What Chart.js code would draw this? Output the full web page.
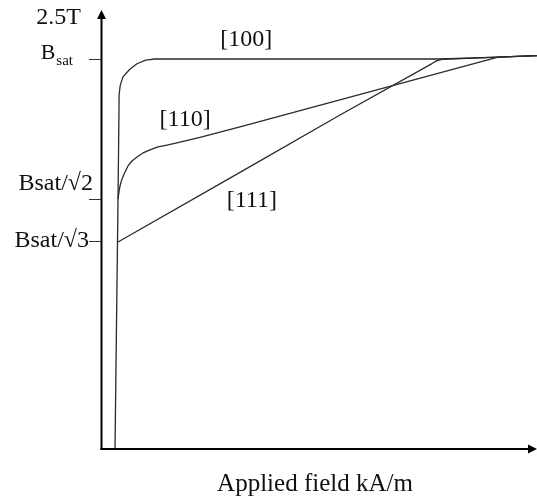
<!DOCTYPE html>
<html>
<head>
<meta charset="utf-8">
<script src="https://cdn.jsdelivr.net/npm/chart.js@4/dist/chart.umd.min.js"></script>
<style>
html,body{margin:0;padding:0;background:#fff;}
canvas{display:block;}
</style>
</head>
<body>
<canvas id="c" width="537" height="500"></canvas>
<script>
// ---- data (applied field in arbitrary kA/m units, induction in T) ----
const categories = ['[100]', '[110]', '[111]'];
const field100 = [3.211, 3.899, 4.128, 4.15, 4.404, 5.000, 6.537, 8.257, 10.252, 12.385, 77.752, 91.055, 100];
const b100     = [0.000, 1.418, 1.931, 2.016, 2.069, 2.118, 2.161, 2.194, 2.214, 2.221, 2.221, 2.232, 2.240];
const field110 = [3.899, 4.128, 4.358, 4.817, 5.505, 6.193, 7.110, 8.257, 9.633, 11.239, 13.073, 15.138, 18.119, 22.706, 31.881, 91.055, 100];
const b110     = [1.424, 1.464, 1.498, 1.538, 1.577, 1.612, 1.640, 1.663, 1.686, 1.703, 1.720, 1.731, 1.748, 1.774, 1.834, 2.232, 2.240];
const field111 = [3.899, 31.881, 54.817, 75.917, 77.064, 78.211, 91.055, 100];
const b111     = [1.179, 1.575, 1.902, 2.195, 2.212, 2.219, 2.232, 2.240];
const yTickValues = [2.221, 1.424, 1.185];
const yTickLabels = ['Bsat', 'Bsat/\u221A2', 'Bsat/\u221A3'];
const yTopLabel = '2.5T';
const yMax = 2.5;
const xMax = 100;
const xTitle = 'Applied field kA/m';

// label anchors (data coordinates) for the curve names
const curveLabelAt = [[33.3, 2.33], [19.3, 1.875], [34.6, 1.415]];

const toPts = (xs, ys) => xs.map((x, i) => ({x: x, y: ys[i]}));
const seriesX = [field100, field110, field111];
const seriesY = [b100, b110, b111];

const SERIF = '"Liberation Serif", "Times New Roman", serif';

const overlay = {
  id: 'overlay',
  afterDraw(chart) {
    const ctx = chart.ctx;
    const xs = chart.scales.x, ys = chart.scales.y;
    const x0 = xs.getPixelForValue(0), x1 = xs.getPixelForValue(xMax);
    const y0 = ys.getPixelForValue(0), y1 = ys.getPixelForValue(yMax);
    ctx.save();
    ctx.strokeStyle = '#000';
    ctx.fillStyle = '#000';
    ctx.lineWidth = 2;
    // y axis with arrow
    ctx.beginPath();
    ctx.moveTo(x0 + 0.5, y0 + 1);
    ctx.lineTo(x0 + 0.5, y1 + 8);
    ctx.stroke();
    ctx.beginPath();
    ctx.moveTo(x0 + 0.5, y1);
    ctx.lineTo(x0 - 4, y1 + 9);
    ctx.lineTo(x0 + 5, y1 + 9);
    ctx.closePath();
    ctx.fill();
    // x axis with arrow
    ctx.beginPath();
    ctx.moveTo(x0 - 0.5, y0);
    ctx.lineTo(x1 - 8, y0);
    ctx.stroke();
    ctx.beginPath();
    ctx.moveTo(x1, y0);
    ctx.lineTo(x1 - 9, y0 - 4.5);
    ctx.lineTo(x1 - 9, y0 + 4.5);
    ctx.closePath();
    ctx.fill();

    // y ticks
    ctx.lineWidth = 1;
    ctx.strokeStyle = '#333';
    yTickValues.forEach(v => {
      const py = Math.round(ys.getPixelForValue(v)) + 0.5;
      ctx.beginPath();
      ctx.moveTo(x0 - 12, py);
      ctx.lineTo(x0, py);
      ctx.stroke();
    });

    ctx.fillStyle = '#111';
    ctx.textBaseline = 'middle';
    // top label
    ctx.font = '24px ' + SERIF;
    ctx.textAlign = 'right';
    ctx.fillText(yTopLabel, x0 - 20, y1 + 8);
    // Bsat with subscript
    {
      const py = ys.getPixelForValue(yTickValues[0]);
      ctx.font = '15px ' + SERIF;
      ctx.textAlign = 'right';
      ctx.fillText(yTickLabels[0].slice(1), x0 - 28, py + 2);
      const subW = ctx.measureText(yTickLabels[0].slice(1)).width;
      ctx.font = '22px ' + SERIF;
      ctx.fillText(yTickLabels[0].charAt(0), x0 - 29 - subW, py - 6);
    }
    ctx.font = '24px ' + SERIF;
    ctx.textAlign = 'right';
    ctx.fillText(yTickLabels[1], x0 - 8, ys.getPixelForValue(yTickValues[1]) - 15);
    ctx.fillText(yTickLabels[2], x0 - 12, ys.getPixelForValue(yTickValues[2]));

    // curve names
    ctx.textAlign = 'center';
    categories.forEach((c, i) => {
      ctx.fillText(c, xs.getPixelForValue(curveLabelAt[i][0]), ys.getPixelForValue(curveLabelAt[i][1]));
    });

    // x title
    ctx.font = '25px ' + SERIF;
    ctx.fillText(xTitle, 315, y0 + 35);
    ctx.restore();
  }
};

new Chart(document.getElementById('c'), {
  type: 'line',
  data: {
    datasets: categories.map((name, i) => ({
      label: name,
      data: toPts(seriesX[i], seriesY[i]),
      borderColor: '#2a2a2a',
      borderWidth: 1.3,
      pointRadius: 0,
      fill: false,
      tension: 0,
      borderJoinStyle: 'round',
      clip: false
    }))
  },
  options: {
    responsive: false,
    animation: false,
    devicePixelRatio: 1,
    layout: {padding: {left: 101, right: 0, top: 10, bottom: 51}},
    plugins: {legend: {display: false}, tooltip: {enabled: false}},
    scales: {
      x: {type: 'linear', min: 0, max: xMax, display: false},
      y: {type: 'linear', min: 0, max: yMax, display: false}
    }
  },
  plugins: [overlay]
});
</script>
</body>
</html>
